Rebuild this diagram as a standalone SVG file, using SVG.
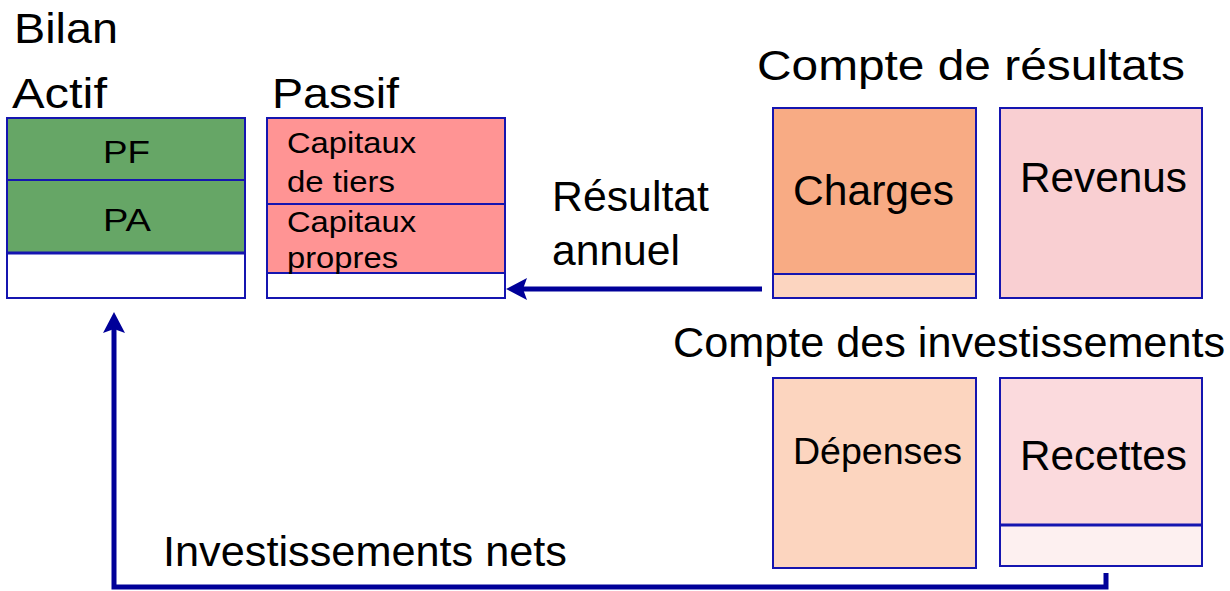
<svg xmlns="http://www.w3.org/2000/svg" width="1230" height="591" viewBox="0 0 1230 591">
<defs>
<style>
text{font-family:"Liberation Sans",Arial,sans-serif;fill:#000}
.b{stroke:#1515b0;stroke-width:2}
.t{font-size:42px}
.c{text-anchor:middle}
.conn{fill:none;stroke:#000099;stroke-width:5}
</style>
<marker id="ah" markerWidth="4.4" markerHeight="4.4" refX="2" refY="2.2" orient="auto" markerUnits="strokeWidth">
<path d="M0,0 L4.2,2.2 L0,4.4 L0.8,2.2 z" fill="#000099"/>
</marker>
</defs>
<rect width="1230" height="591" fill="#fff"/>
<text x="14" y="43" class="t" textLength="104" lengthAdjust="spacingAndGlyphs">Bilan</text>
<text x="12" y="108" class="t" textLength="95" lengthAdjust="spacingAndGlyphs">Actif</text>
<text x="272" y="108" class="t" textLength="127" lengthAdjust="spacingAndGlyphs">Passif</text>
<text x="757" y="80" class="t" textLength="428" lengthAdjust="spacingAndGlyphs">Compte de résultats</text>
<text x="673" y="357" class="t" textLength="552" lengthAdjust="spacingAndGlyphs">Compte des investissements</text>
<text x="552" y="211" class="t" textLength="157" lengthAdjust="spacingAndGlyphs">Résultat</text>
<text x="552" y="265" class="t" textLength="128" lengthAdjust="spacingAndGlyphs">annuel</text>
<text x="163" y="566" class="t" textLength="404" lengthAdjust="spacingAndGlyphs">Investissements nets</text>
<g id="actif">
<rect x="7" y="118" width="238" height="180" fill="#fff" class="b"/>
<rect x="7" y="118" width="238" height="62" fill="#66a666" class="b"/>
<rect x="7" y="180" width="238" height="73" fill="#66a666" class="b"/>
<line x1="7" y1="253" x2="245" y2="253" stroke="#1515b0" stroke-width="3"/>
<text x="103" y="163" font-size="32" textLength="47" lengthAdjust="spacingAndGlyphs">PF</text>
<text x="103" y="231" font-size="32" textLength="48" lengthAdjust="spacingAndGlyphs">PA</text>
</g>
<g id="passif">
<rect x="267" y="118" width="238" height="180" fill="#fff" class="b"/>
<rect x="267" y="118" width="238" height="86" fill="#ff9494" class="b"/>
<rect x="267" y="204" width="238" height="69" fill="#ff9494" class="b"/>
<text x="287" y="153" font-size="29" textLength="129" lengthAdjust="spacingAndGlyphs">Capitaux</text>
<text x="287" y="192" font-size="29" textLength="108" lengthAdjust="spacingAndGlyphs">de tiers</text>
<text x="287" y="232" font-size="29" textLength="129" lengthAdjust="spacingAndGlyphs">Capitaux</text>
<text x="287" y="268" font-size="29" textLength="111" lengthAdjust="spacingAndGlyphs">propres</text>
</g>
<g id="charges">
<rect x="773" y="108" width="203" height="190" fill="#fcd5c0" class="b"/>
<rect x="773" y="108" width="203" height="166" fill="#f8ab84" class="b"/>
<text x="793" y="205" class="t" textLength="161" lengthAdjust="spacingAndGlyphs">Charges</text>
</g>
<g id="revenus">
<rect x="1000" y="108" width="202" height="190" fill="#f9cfd2" class="b"/>
<text x="1020" y="192" class="t" textLength="167" lengthAdjust="spacingAndGlyphs">Revenus</text>
</g>
<g id="depenses">
<rect x="773" y="378" width="203" height="190" fill="#fcd5bf" class="b"/>
<text x="793" y="464" font-size="36" textLength="169" lengthAdjust="spacingAndGlyphs">Dépenses</text>
</g>
<g id="recettes">
<rect x="1000" y="378" width="202" height="188" fill="#fdf0f0" class="b"/>
<rect x="1000" y="378" width="202" height="147" fill="#fbdadd" class="b"/>
<line x1="1000" y1="525" x2="1202" y2="525" stroke="#1515b0" stroke-width="3"/>
<text x="1020" y="470" class="t" textLength="167" lengthAdjust="spacingAndGlyphs">Recettes</text>
</g>
<g id="connectors">
<path class="conn" d="M762,289 L517,289" marker-end="url(#ah)"/>
<path class="conn" d="M1106,573 L1106,587 L114,587 L114,323" marker-end="url(#ah)"/>
</g>
</svg>
